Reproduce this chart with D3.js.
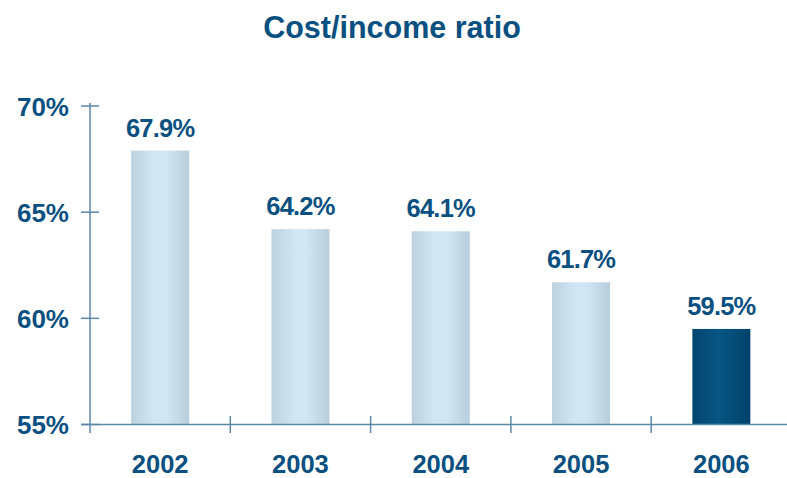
<!DOCTYPE html>
<html>
<head>
<meta charset="utf-8">
<script src="https://cdn.jsdelivr.net/npm/d3@7"></script>
<style>
  html, body { margin: 0; padding: 0; background: #fff; }
  svg { display: block; font-family: "Liberation Sans", Arial, Helvetica, sans-serif; }
</style>
</head>
<body>
<svg id="chart" width="787" height="478"></svg>
<script>
// Cost/income ratio by year (%)
const years = ["2002", "2003", "2004", "2005", "2006"];
const ratios = [67.9, 64.2, 64.1, 61.7, 59.5];
const yTicks = [55, 60, 65, 70];
const highlightYear = "2006";

const W = 787, H = 478;
const svg = d3.select("#chart");
const ink = "#0a5080";
const axisColor = "#5c88a8";

const x = d3.scaleBand().domain(years).range([90, 791.5]).paddingInner(0).paddingOuter(0);
const y = d3.scaleLinear().domain([55, 70]).range([424.5, 106]);
const barW = 58;

// gradients for the cylinder-like bars
const defs = svg.append("defs");
function hGrad(id, stops) {
  const g = defs.append("linearGradient").attr("id", id)
    .attr("x1", "0%").attr("x2", "100%").attr("y1", "0%").attr("y2", "0%");
  stops.forEach(([o, c]) => g.append("stop").attr("offset", o).attr("stop-color", c));
}
hGrad("light", [["0%", "#bcd2de"], ["40%", "#d0e6f3"], ["60%", "#d0e6f3"], ["100%", "#b8cfdb"]]);
hGrad("dark", [["0%", "#034670"], ["45%", "#075582"], ["55%", "#065380"], ["100%", "#02426a"]]);

svg.append("text")
  .attr("x", 392).attr("y", 38)
  .attr("text-anchor", "middle")
  .attr("fill", ink)
  .attr("font-size", 30.5).attr("font-weight", "bold")
  .text("Cost/income ratio");

// bars
svg.selectAll("rect.bar").data(years).enter().append("rect")
  .attr("class", "bar")
  .attr("x", d => x(d) + x.bandwidth() / 2 - barW / 2)
  .attr("width", barW)
  .attr("y", (d, i) => y(ratios[i]))
  .attr("height", (d, i) => y(55) - y(ratios[i]))
  .attr("fill", d => d === highlightYear ? "url(#dark)" : "url(#light)");

// value labels
svg.selectAll("text.val").data(years).enter().append("text")
  .attr("class", "val")
  .attr("x", d => x(d) + x.bandwidth() / 2)
  .attr("y", (d, i) => y(ratios[i]) - 14)
  .attr("text-anchor", "middle")
  .attr("fill", ink)
  .attr("font-size", 25.5).attr("font-weight", "bold")
  .attr("letter-spacing", -0.8)
  .text((d, i) => ratios[i].toFixed(1) + "%");

// y axis
const yAxis = svg.append("g").attr("stroke", axisColor).attr("stroke-width", 1.5);
yAxis.append("line").attr("x1", 90).attr("x2", 90).attr("y1", 103).attr("y2", 433);
yAxis.selectAll("line.tick").data(yTicks).enter().append("line")
  .attr("x1", 81).attr("x2", 99)
  .attr("y1", d => y(d)).attr("y2", d => y(d));
svg.selectAll("text.ytick").data(yTicks).enter().append("text")
  .attr("x", 69).attr("y", d => y(d) + 9.5)
  .attr("text-anchor", "end")
  .attr("fill", ink)
  .attr("font-size", 26).attr("font-weight", "bold")
  .text(d => d + "%");

// x axis
const xAxis = svg.append("g").attr("stroke", axisColor).attr("stroke-width", 1.5);
xAxis.append("line").attr("x1", 81).attr("x2", W).attr("y1", y(55)).attr("y2", y(55));
xAxis.selectAll("line.tick").data(years.slice(1)).enter().append("line")
  .attr("x1", d => x(d)).attr("x2", d => x(d))
  .attr("y1", 416).attr("y2", 433);
svg.selectAll("text.xtick").data(years).enter().append("text")
  .attr("x", d => x(d) + x.bandwidth() / 2).attr("y", 472.5)
  .attr("text-anchor", "middle")
  .attr("fill", ink)
  .attr("font-size", 25.5).attr("font-weight", "bold")
  .text(d => d);
</script>
</body>
</html>
